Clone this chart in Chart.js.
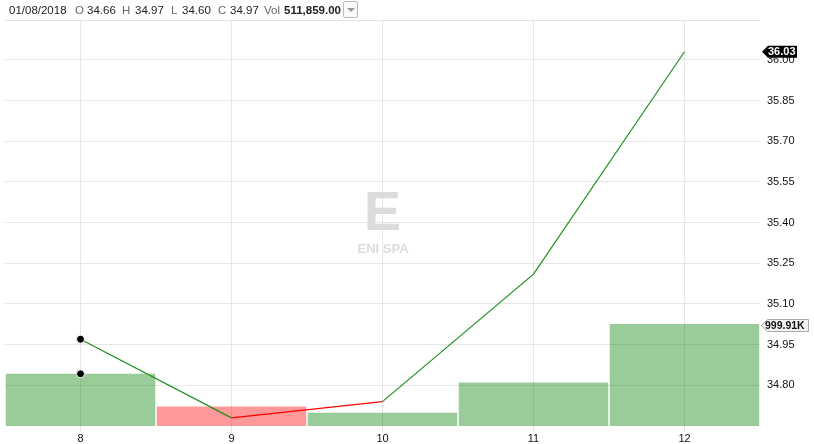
<!DOCTYPE html>
<html><head><meta charset="utf-8">
<script src="https://cdn.jsdelivr.net/npm/chart.js@4/dist/chart.umd.min.js"></script>
<style>
html,body{margin:0;padding:0;background:#fff;}
#wrap{position:relative;width:814px;height:444px;}
#hdr{position:absolute;left:0;top:0;height:20px;font-family:"Liberation Sans",Arial,sans-serif;font-size:11.5px;color:#222;white-space:nowrap;}
#hdr span{position:absolute;top:4px;}
#hdr .k{color:#666;}
#dd{position:absolute;left:343px;top:1px;width:13px;height:15px;border:1px solid #bbb;border-radius:2px;background:#fafafa;}
#dd:after{content:"";position:absolute;left:3px;top:6px;border-left:4px solid transparent;border-right:4px solid transparent;border-top:4px solid #999;}
canvas{position:absolute;left:0;top:0;}
</style></head>
<body><div id="wrap"><canvas id="c" width="814" height="444"></canvas><div id="hdr"></div></div>
<script>
// ---- data ----
const categories = ['8','9','10','11','12'];
const closes = [34.97, 34.68, 34.74, 35.21, 36.03];
const volumes = [511859, 190000, 129000, 427000, 999910];
const dayDirection = ['up','down','up','up','up'];
const priceTicks = [34.80, 34.95, 35.10, 35.25, 35.40, 35.55, 35.70, 35.85, 36.00];
const headerKeys = ['', 'O', 'H', 'L', 'C', 'Vol'];
const headerVals = ['01/08/2018', '34.66', '34.97', '34.60', '34.97', '511,859.00'];
const watermarkLetter = 'E';
const watermarkName = 'ENI SPA';

// ---- header ----
const hdr = document.getElementById('hdr');
const keyX = [null, 75, 122, 171, 218, 264];
const valX = [9, 87, 135, 182, 230, 284];
headerKeys.forEach((k,i)=>{
  if(k){const s=document.createElement('span');s.className='k';s.textContent=k;s.style.left=keyX[i]+'px';hdr.appendChild(s);}
  const v=document.createElement('span');v.textContent=headerVals[i];v.style.left=valX[i]+'px';
  if(k==='Vol') v.style.fontWeight='bold';
  hdr.appendChild(v);
});
const dd=document.createElement('div');dd.id='dd';hdr.appendChild(dd);

const upBar='rgba(0,128,0,0.4)', downBar='rgba(255,0,0,0.4)';
const upLine='#1f8f1f', downLine='#ff0000';
const FONT='"Liberation Sans", Arial, sans-serif';

const extras = {
  id:'extras',
  beforeDatasetsDraw(chart){
    const {ctx, chartArea:a} = chart;
    ctx.save();
    ctx.strokeStyle='#e4e4e4';ctx.lineWidth=1;
    ctx.beginPath();ctx.moveTo(a.left,a.top+0.5);ctx.lineTo(a.right,a.top+0.5);ctx.stroke();
    const cx=(a.left+a.right)/2;
    ctx.fillStyle='#dcdcdc';ctx.textAlign='center';ctx.textBaseline='alphabetic';
    ctx.font='bold 56px '+FONT;
    ctx.fillText(watermarkLetter,cx,230);
    ctx.font='bold 13px '+FONT;
    ctx.fillText(watermarkName,cx+0.5,253);
    ctx.restore();
  },
  afterDraw(chart){
    const {ctx, chartArea:a, scales} = chart;
    ctx.save();
    const py = scales.yPrice.getPixelForValue(closes[closes.length-1]);
    const x0=a.right+2;
    ctx.fillStyle='#000';
    ctx.beginPath();ctx.moveTo(x0,py);ctx.lineTo(x0+6,py-6);ctx.lineTo(x0+35,py-6);ctx.lineTo(x0+35,py+6);ctx.lineTo(x0+6,py+6);ctx.closePath();ctx.fill();
    ctx.fillStyle='#fff';ctx.font='bold 11px '+FONT;ctx.textAlign='left';ctx.textBaseline='middle';
    ctx.fillText(closes[closes.length-1].toFixed(2),x0+6,py+0.5);
    const vy = scales.yVol.getPixelForValue(volumes[volumes.length-1])+1;
    const x1=a.right+1;
    ctx.fillStyle='#f2f2f2';ctx.strokeStyle='#aaa';ctx.lineWidth=1;
    ctx.beginPath();ctx.moveTo(x1+0.5,vy+0.5);ctx.lineTo(x1+6.5,vy-5.5);ctx.lineTo(x1+47.5,vy-5.5);ctx.lineTo(x1+47.5,vy+6.5);ctx.lineTo(x1+6.5,vy+6.5);ctx.closePath();ctx.fill();ctx.stroke();
    ctx.fillStyle='#111';ctx.font='bold 10.5px '+FONT;
    ctx.fillText((volumes[volumes.length-1]/1000).toFixed(2)+'K',x1+4,vy+1);
    ctx.restore();
  }
};

new Chart(document.getElementById('c'), {
  type:'bar',
  data:{
    labels:categories,
    datasets:[
      {type:'line', label:'dot', data:volumes.map((v,i)=>i===0?v:null), yAxisID:'yVol', showLine:false,
       pointRadius:4, pointBackgroundColor:'#000', pointBorderColor:'#fff', pointBorderWidth:1, order:1},
      {type:'line', label:'close', data:closes, yAxisID:'yPrice', borderWidth:1.2, tension:0,
       borderColor:upLine,
       segment:{borderColor:c=>dayDirection[c.p0DataIndex]==='down'?downLine:upLine},
       pointRadius:closes.map((v,i)=>i===0?4:0), pointBackgroundColor:'#000', pointBorderColor:'#fff', pointBorderWidth:1, order:2},
      {type:'bar', label:'vol', data:volumes, yAxisID:'yVol',
       backgroundColor:dayDirection.map(d=>d==='down'?downBar:upBar),
       barPercentage:1, categoryPercentage:0.99, borderWidth:0, order:3}
    ]
  },
  options:{
    responsive:false, animation:false, events:[],
    layout:{padding:{left:4,top:20,right:0,bottom:0}},
    plugins:{legend:{display:false},tooltip:{enabled:false}},
    scales:{
      x:{offset:true,
        grid:{offset:false,color:'#e6e6e6',drawTicks:true,tickLength:6},
        border:{display:false},
        ticks:{color:'#111',font:{family:FONT,size:11},padding:0,maxRotation:0},
        afterFit(s){s.height=18;}
      },
      yPrice:{position:'right',min:34.65,max:36.147,
        grid:{color:'#e6e6e6',drawTicks:false},
        border:{display:false},
        afterBuildTicks(s){s.ticks=priceTicks.map(v=>({value:v}));},
        ticks:{color:'#111',font:{family:FONT,size:11},padding:7,callback:v=>Number(v).toFixed(2)},
        afterFit(s){s.width=54;}
      },
      yVol:{display:false,min:0,max:3980000}
    }
  },
  plugins:[extras]
});
</script></body></html>
